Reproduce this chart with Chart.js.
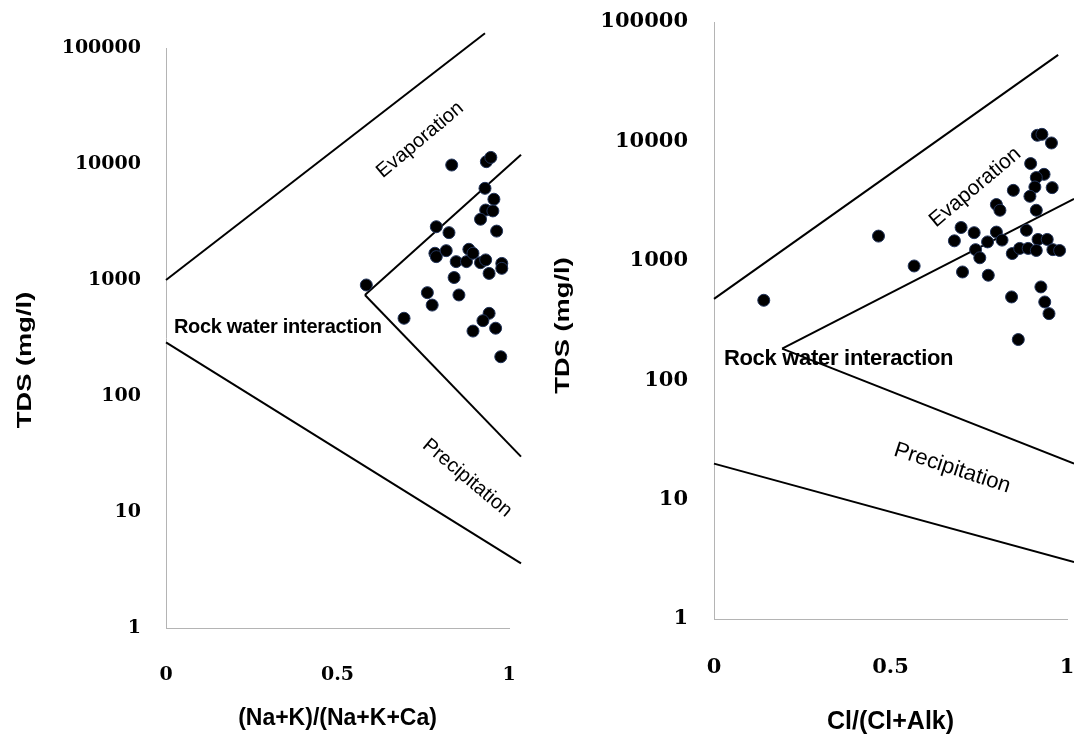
<!DOCTYPE html>
<html>
<head>
<meta charset="utf-8">
<script src="https://cdn.jsdelivr.net/npm/chart.js@4/dist/chart.umd.min.js"></script>
<style>
  html, body { margin: 0; padding: 0; background: #fff; }
  #wrap { position: relative; width: 1074px; height: 737px; overflow: hidden; }
  canvas { position: absolute; top: 0; }
  #cation { left: 0; }
  #anion { left: 537px; }
</style>
</head>
<body>
<div id="wrap">
  <canvas id="cation" width="537" height="737"></canvas>
  <canvas id="anion" width="537" height="737"></canvas>
</div>
<script>
// Shared axis ticks
const tdsTicks = [1, 10, 100, 1000, 10000, 100000];
const ratioTicks = [0, 0.5, 1];

// Cation panel: (Na+K)/(Na+K+Ca) against TDS (mg/l)
const cationRatio = [0.833, 0.934, 0.947, 0.930, 0.956, 0.932, 0.953, 0.917, 0.964, 0.788,
                     0.825, 0.784, 0.788, 0.817, 0.846, 0.876, 0.883, 0.895, 0.917, 0.932,
                     0.942, 0.979, 0.979, 0.840, 0.584, 0.762, 0.854, 0.776, 0.694, 0.942,
                     0.924, 0.895, 0.961, 0.976];
const cationTDS = [9800, 10470, 11400, 6170, 4970, 4010, 3940, 3340, 2640, 2880,
                   2560, 1700, 1590, 1790, 1440, 1440, 1840, 1700, 1410, 1490,
                   1140, 1390, 1260, 1050, 906, 778, 743, 608, 468, 516,
                   446, 363, 384, 218];

// Anion panel: Cl/(Cl+Alk) against TDS (mg/l)
const anionRatio = [0.916, 0.929, 0.956, 0.897, 0.935, 0.913, 0.958, 0.909, 0.895, 0.848,
                    0.800, 0.810, 0.913, 0.700, 0.737, 0.681, 0.800, 0.775, 0.816, 0.741,
                    0.753, 0.885, 0.918, 0.944, 0.845, 0.866, 0.890, 0.913, 0.960, 0.979,
                    0.466, 0.567, 0.141, 0.704, 0.777, 0.843, 0.926, 0.937, 0.949, 0.862];
const anionTDS = [11250, 11460, 9700, 6520, 5300, 4980, 4100, 4150, 3470, 3890,
                  2960, 2650, 2650, 1900, 1720, 1470, 1740, 1440, 1490, 1240,
                  1060, 1800, 1510, 1510, 1150, 1270, 1270, 1220, 1240, 1220,
                  1610, 905, 467, 806, 757, 498, 604, 452, 361, 219];

// Gibbs boundary lines, cation panel
const cationOuterUpperX = [0, 0.93];
const cationOuterUpperY = [1000, 134000];
const cationInnerUpperX = [0.58, 1.035];
const cationInnerUpperY = [743, 12000];
const cationInnerLowerX = [0.58, 1.035];
const cationInnerLowerY = [743, 30];
const cationOuterLowerX = [0, 1.035];
const cationOuterLowerY = [290, 3.6];

// Gibbs boundary lines, anion panel
const anionOuterUpperX = [0, 0.975];
const anionOuterUpperY = [480, 53000];
const anionInnerUpperX = [0.193, 1.02];
const anionInnerUpperY = [184, 3300];
const anionInnerLowerX = [0.193, 1.02];
const anionInnerLowerY = [184, 20];
const anionOuterLowerX = [0, 1.02];
const anionOuterLowerY = [20, 3.0];

const zip = (xs, ys) => xs.map((x, i) => ({ x: x, y: ys[i] }));

// Region names, placed at data coordinates
const regionLabels = {
  id: 'regionLabels',
  afterDatasetsDraw(chart, args, opts) {
    const { ctx } = chart;
    const xs = chart.scales.x, ys = chart.scales.y;
    (opts.items || []).forEach(it => {
      ctx.save();
      ctx.translate(xs.getPixelForValue(it.x), ys.getPixelForValue(it.y));
      ctx.rotate((it.rotation || 0) * Math.PI / 180);
      ctx.font = it.font;
      ctx.fillStyle = '#000';
      ctx.textAlign = it.align || 'center';
      ctx.textBaseline = 'middle';
      if (it.spacing) ctx.letterSpacing = it.spacing;
      ctx.fillText(it.text, 0, 0);
      ctx.restore();
    });
  }
};

// Vertical TDS title, drawn elongated along the text direction
const tdsTitle = {
  id: 'tdsTitle',
  afterDraw(chart, args, o) {
    const { ctx, chartArea } = chart;
    ctx.save();
    ctx.translate(o.x, (chartArea.top + chartArea.bottom) / 2 + o.shift);
    ctx.rotate(-Math.PI / 2);
    ctx.scale(o.stretch, 1);
    ctx.font = o.font;
    ctx.fillStyle = '#000';
    ctx.textAlign = 'center';
    ctx.textBaseline = 'middle';
    ctx.fillText(o.text, 0, 0);
    ctx.restore();
  }
};

function lineSet(xs, ys) {
  return {
    type: 'scatter',
    data: zip(xs, ys),
    showLine: true,
    borderColor: '#000',
    borderWidth: 2,
    pointRadius: 0,
    fill: false,
    clip: false
  };
}

function makePanel(id, p) {
  new Chart(document.getElementById(id), {
    type: 'scatter',
    data: {
      datasets: [
        {
          data: zip(p.ratio, p.tds),
          pointRadius: 6,
          pointBackgroundColor: '#000',
          pointBorderColor: '#22345a',
          pointBorderWidth: 1,
          showLine: false
        },
        ...p.lines.map(l => lineSet(l[0], l[1]))
      ]
    },
    options: {
      responsive: false,
      animation: false,
      devicePixelRatio: 1,
      layout: { padding: { top: p.top, right: p.right, bottom: 0, left: 0 } },
      plugins: {
        legend: { display: false },
        tooltip: { enabled: false },
        regionLabels: { items: p.labels },
        tdsTitle: {
          text: 'TDS (mg/l)',
          x: p.yTitleX,
          shift: p.yTitleShift,
          stretch: 1.3,
          font: 'bold 21px "Liberation Sans"'
        }
      },
      scales: {
        x: {
          type: 'linear',
          min: 0,
          max: 1,
          afterBuildTicks: s => { s.ticks = ratioTicks.map(v => ({ value: v })); },
          afterFit: s => { s.height = p.xHeight; s.paddingRight = 0; s.paddingLeft = 0; },
          grid: { display: false, drawTicks: false },
          border: { display: true, color: '#b4b4b4', width: 1 },
          ticks: {
            padding: p.xTickPad,
            color: '#000',
            font: { family: 'DejaVu Serif', weight: 'bold', size: p.tickSize },
            callback: v => String(v)
          },
          title: {
            display: true,
            text: p.xTitle,
            color: '#000',
            font: { family: 'Liberation Sans', weight: 'bold', size: p.xTitleSize },
            padding: { top: 0, bottom: p.xTitlePad }
          }
        },
        y: {
          type: 'logarithmic',
          min: 1,
          max: 100000,
          afterBuildTicks: s => { s.ticks = tdsTicks.map(v => ({ value: v })); },
          afterFit: s => { s.width = p.yWidth; s.paddingTop = 0; s.paddingBottom = 0; },
          grid: { display: false, drawTicks: false },
          border: { display: true, color: '#b4b4b4', width: 1 },
          ticks: {
            padding: p.yTickPad,
            color: '#000',
            font: { family: 'DejaVu Serif', weight: 'bold', size: p.tickSize },
            callback: v => String(v)
          },
          title: { display: false }
        }
      }
    },
    plugins: [regionLabels, tdsTitle]
  });
}

makePanel('cation', {
  ratio: cationRatio,
  tds: cationTDS,
  lines: [
    [cationOuterUpperX, cationOuterUpperY],
    [cationInnerUpperX, cationInnerUpperY],
    [cationInnerLowerX, cationInnerLowerY],
    [cationOuterLowerX, cationOuterLowerY]
  ],
  xTitle: '(Na+K)/(Na+K+Ca)',
  top: 48, right: 28,
  xHeight: 109, yWidth: 166,
  tickSize: 19, xTitleSize: 23,
  xTickPad: 36, yTickPad: 25,
  xTitlePad: 5,
  yTitleX: 25, yTitleShift: 22,
  labels: [
    { text: 'Evaporation', x: 0.741, y: 16100, rotation: -40, font: '20px "Liberation Sans"' },
    { text: 'Rock water interaction', x: 0.023, y: 386, align: 'left', font: 'bold 20px "Liberation Sans"', spacing: '-0.3px' },
    { text: 'Precipitation', x: 0.878, y: 19.6, rotation: 40, font: '20px "Liberation Sans"' }
  ]
});

makePanel('anion', {
  ratio: anionRatio,
  tds: anionTDS,
  lines: [
    [anionOuterUpperX, anionOuterUpperY],
    [anionInnerUpperX, anionInnerUpperY],
    [anionInnerLowerX, anionInnerLowerY],
    [anionOuterLowerX, anionOuterLowerY]
  ],
  xTitle: 'Cl/(Cl+Alk)',
  top: 22, right: 5,
  xHeight: 118, yWidth: 177,
  tickSize: 21, xTitleSize: 25,
  xTickPad: 36, yTickPad: 26,
  xTitlePad: 0,
  yTitleX: 26, yTitleShift: 5,
  labels: [
    { text: 'Evaporation', x: 0.740, y: 4130, rotation: -40, font: '21px "Liberation Sans"' },
    { text: 'Rock water interaction', x: 0.028, y: 152, align: 'left', font: 'bold 22px "Liberation Sans"', spacing: '-0.3px' },
    { text: 'Precipitation', x: 0.675, y: 18.3, rotation: 18, font: '22px "Liberation Sans"' }
  ]
});
</script>
</body>
</html>
